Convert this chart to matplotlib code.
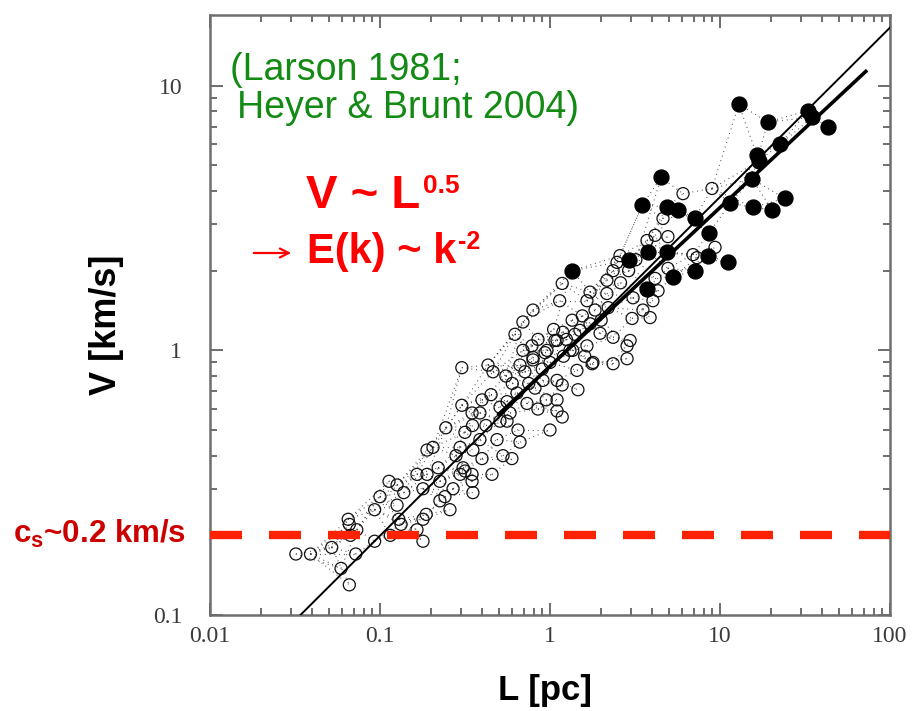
import numpy as np
import matplotlib
matplotlib.use("Agg")
import matplotlib.pyplot as plt
from matplotlib.collections import LineCollection
from matplotlib.ticker import FixedLocator, NullFormatter

plt.rcParams['font.family'] = ['Liberation Sans', 'DejaVu Sans']
plt.rcParams['mathtext.fontset'] = 'custom'
plt.rcParams['mathtext.rm'] = 'Liberation Sans'
plt.rcParams['mathtext.bf'] = 'Liberation Sans:bold'

# molecular clouds: size L [pc] and velocity dispersion V [km/s]
open_L = [0.032, 0.039, 0.052, 0.059, 0.066, 0.072, 0.065, 0.066, 0.073, 0.067,
          0.093, 0.10, 0.113, 0.126, 0.138, 0.126, 0.129, 0.133, 0.115, 0.093,
          0.165, 0.179, 0.179, 0.187, 0.165, 0.189, 0.179, 0.225, 0.225, 0.258,
          0.269, 0.189, 0.205, 0.244, 0.316, 0.296, 0.352, 0.316, 0.348, 0.352,
          0.241, 0.296,
          0.303, 0.432, 0.462, 0.622, 0.693, 0.783, 0.666, 0.712, 0.794, 0.935,
          1.07, 1.36, 1.65, 1.77, 1.44, 1.10, 1.18, 1.46, 0.909, 0.816,
          0.64, 0.559, 0.398, 0.303, 0.348, 0.387, 0.508, 0.582, 0.732, 0.849,
          1.10, 1.18, 1.0, 0.648, 0.666, 0.508, 0.488, 0.559, 0.387, 0.398,
          0.529, 0.597, 0.308, 0.348, 0.456,
          1.18, 1.14, 0.794, 0.693, 2.48, 2.58, 2.35, 4.15, 3.72, 2.16,
          1.72, 1.65, 2.16, 1.84, 1.35, 1.50, 1.19, 1.10, 1.72, 1.97,
          2.35, 2.96, 2.84, 3.04, 3.88, 4.03, 3.52, 3.08, 1.79, 2.35,
          2.84, 0.96, 0.794, 1.31,
          6.06, 8.97, 4.62, 4.94, 9.35, 7.32, 4.94, 4.15, 4.32, 6.94,
          0.85, 0.90, 1.0, 1.05, 1.2, 1.25, 1.4, 1.1, 0.95, 0.75,
          1.6, 1.55, 2.0, 2.2, 0.6, 0.55, 0.45, 0.35, 0.28, 0.22,
          0.42, 2.6, 3.2, 2.9]
open_V = [0.17, 0.17, 0.18, 0.15, 0.13, 0.17, 0.23, 0.22, 0.21, 0.20,
          0.25, 0.28, 0.32, 0.31, 0.29, 0.26, 0.23, 0.22, 0.20, 0.19,
          0.21, 0.23, 0.19, 0.24, 0.34, 0.34, 0.30, 0.32, 0.27, 0.25,
          0.30, 0.42, 0.43, 0.51, 0.49, 0.43, 0.42, 0.35, 0.32, 0.29,
          0.28, 0.34,
          0.86, 0.88, 0.83, 1.15, 1.0, 1.04, 0.88, 0.83, 0.92, 0.98,
          1.09, 1.0, 1.04, 0.89, 0.84, 0.77, 0.74, 0.71, 0.77, 0.72,
          0.69, 0.64, 0.65, 0.62, 0.58, 0.58, 0.61, 0.58, 0.63, 0.60,
          0.59, 0.56, 0.50, 0.50, 0.45, 0.54, 0.46, 0.54, 0.46, 0.39,
          0.40, 0.39, 0.36, 0.34, 0.34,
          1.79, 1.54, 1.42, 1.28, 2.15, 2.28, 2.0, 2.72, 2.60, 1.84,
          1.66, 1.54, 1.64, 1.42, 1.30, 1.19, 1.17, 1.09, 1.26, 1.16,
          1.12, 1.09, 1.04, 1.32, 1.33, 1.54, 1.42, 1.58, 0.90, 0.89,
          0.93, 1.0, 0.94, 1.0,
          3.91, 4.09, 3.15, 2.69, 2.45, 2.24, 2.04, 1.87, 1.68, 2.3,
          1.1, 0.85, 0.9, 1.2, 0.95, 1.1, 1.15, 0.65, 0.65, 0.75,
          0.95, 1.35, 1.3, 1.45, 0.75, 0.8, 0.68, 0.52, 0.4, 0.36,
          0.52, 1.8, 2.2, 2.0]

filled_L = [1.35, 12.9, 19.1, 33, 35, 43, 22.5, 16.5, 17, 15.4,
            4.5, 24, 3.5, 4.9, 5.7, 11.5, 15.6, 20.2, 7.1, 8.6,
            3.77, 4.9, 8.5, 11.1, 2.92, 5.3, 7.1, 3.72]
filled_V = [2.0, 8.5, 7.3, 8.05, 7.6, 7.0, 6.0, 5.45, 5.2, 4.45,
            4.5, 3.75, 3.55, 3.47, 3.4, 3.6, 3.47, 3.4, 3.15, 2.77,
            2.35, 2.35, 2.28, 2.15, 2.19, 1.9, 2.0, 1.71]

# power-law fits V = a * L^b, drawn between L_lo and L_hi
fit_thin = (0.87, 0.64, 0.034, 100)
fit_thick = (0.87, 0.60, 0.5, 72)
c_s = 0.2

x_ticks = [0.01, 0.1, 1, 10, 100]
x_ticklabels = ['0.01', '0.1', '1', '10', '100']
y_ticks = [0.1, 1, 10]
y_ticklabels = ['0.1', '1', '10']

W, H = 918, 711
fig = plt.figure(figsize=(W / 100, H / 100), dpi=100)
ax = fig.add_axes([210 / W, 96 / H, 680 / W, 600 / H])
ax.set_xscale('log')
ax.set_yscale('log')
ax.set_xlim(0.01, 100)
ax.set_ylim(0.1, 18.5)

# dotted links between neighbouring points (cloud structure functions)
all_L = np.log10(np.array(open_L + filled_L))
all_V = np.log10(np.array(open_V + filled_V))
segs = []
for i in range(len(all_L)):
    dx = (all_L[i] - all_L) * 170
    dy = (all_V[i] - all_V) * 265
    d = np.hypot(dx, dy)
    ok = np.where((dx > 15) & (d < 90))[0]
    for j in ok[np.argsort(d[ok])][:2]:
        segs.append([(10 ** all_L[j], 10 ** all_V[j]), (10 ** all_L[i], 10 ** all_V[i])])
ax.add_collection(LineCollection(segs, colors='#444444', linewidths=0.8,
                                 linestyles=(0, (0.8, 3.5)), zorder=1))

for a, b, lo, hi, lw in [fit_thin + (1.4,), fit_thick + (2.6,)]:
    xx = np.logspace(np.log10(lo), np.log10(hi), 50)
    ax.plot(xx, a * xx ** b, color='black', lw=lw, zorder=3)

ax.scatter(open_L, open_V, s=75, facecolors='none', edgecolors='#111111',
           linewidths=0.9, zorder=2)
ax.scatter(filled_L, filled_V, s=115, color='black', zorder=4)

ax.axhline(c_s, color='#ff2200', lw=6, dashes=(3.84, 3.24), zorder=5)

ax.xaxis.set_major_locator(FixedLocator(x_ticks))
ax.set_xticklabels(x_ticklabels)
ax.yaxis.set_major_locator(FixedLocator(y_ticks))
ax.set_yticklabels(y_ticklabels)
minors_x = [m * 10.0 ** e for e in range(-2, 2) for m in range(2, 10)]
minors_y = [m * 10.0 ** e for e in range(-1, 2) for m in range(2, 10)]
ax.xaxis.set_minor_locator(FixedLocator(minors_x))
ax.yaxis.set_minor_locator(FixedLocator(minors_y))
ax.xaxis.set_minor_formatter(NullFormatter())
ax.yaxis.set_minor_formatter(NullFormatter())
ax.tick_params(which='both', direction='in', top=True, right=True,
               color='#555555', width=1.2)
ax.tick_params(which='major', length=9)
ax.tick_params(which='minor', length=5)
ax.tick_params(axis='x', pad=8)
ax.tick_params(axis='y', pad=20)
for lab in ax.get_xticklabels() + ax.get_yticklabels():
    lab.set_fontfamily('Liberation Serif')
    lab.set_fontsize(17)
    lab.set_color('#3a3a3a')
for sp in ax.spines.values():
    sp.set_color('#6e6e6e')
    sp.set_linewidth(1.8)


def px(x, y):
    return x / W, 1 - y / H


green = '#138a13'
fig.text(*px(230, 80), '(Larson 1981;', color=green, fontsize=27, va='baseline')
fig.text(*px(237, 118), 'Heyer & Brunt 2004)', color=green, fontsize=27, va='baseline')

red = '#ff0000'
t1 = fig.text(*px(306, 208), 'V ~ L', color=red, fontsize=34, fontweight='bold', va='baseline')
fig.patches.append(matplotlib.patches.FancyArrowPatch(
    px(251, 253), px(294, 253), transform=fig.transFigure, figure=fig,
    arrowstyle='->', mutation_scale=16, color=red, lw=1.6))
t2 = fig.text(*px(307, 263), 'E(k) ~ k', color=red, fontsize=30, fontweight='bold', va='baseline')
fig.canvas.draw()
r = fig.canvas.get_renderer()
b1 = t1.get_window_extent(r)
b2 = t2.get_window_extent(r)
fig.text((b1.x1 + 3) / W, 1 - 193 / H, '0.5', color=red, fontsize=19, fontweight='bold', va='baseline')
fig.text((b2.x1 + 2) / W, 1 - 249 / H, '-2', color=red, fontsize=18, fontweight='bold', va='baseline')

fig.text(*px(13, 543), 'c$_\\mathbf{s}$~0.2 km/s', color='#cc0000', fontsize=22.5,
         fontweight='bold', va='baseline')

fig.text(*px(545, 700), 'L [pc]', fontsize=25, fontweight='bold', ha='center', va='baseline')
fig.text(*px(107, 325), 'V [km/s]', fontsize=26, fontweight='bold', rotation=90,
         ha='center', va='center')

fig.savefig('out.png', dpi=100)
